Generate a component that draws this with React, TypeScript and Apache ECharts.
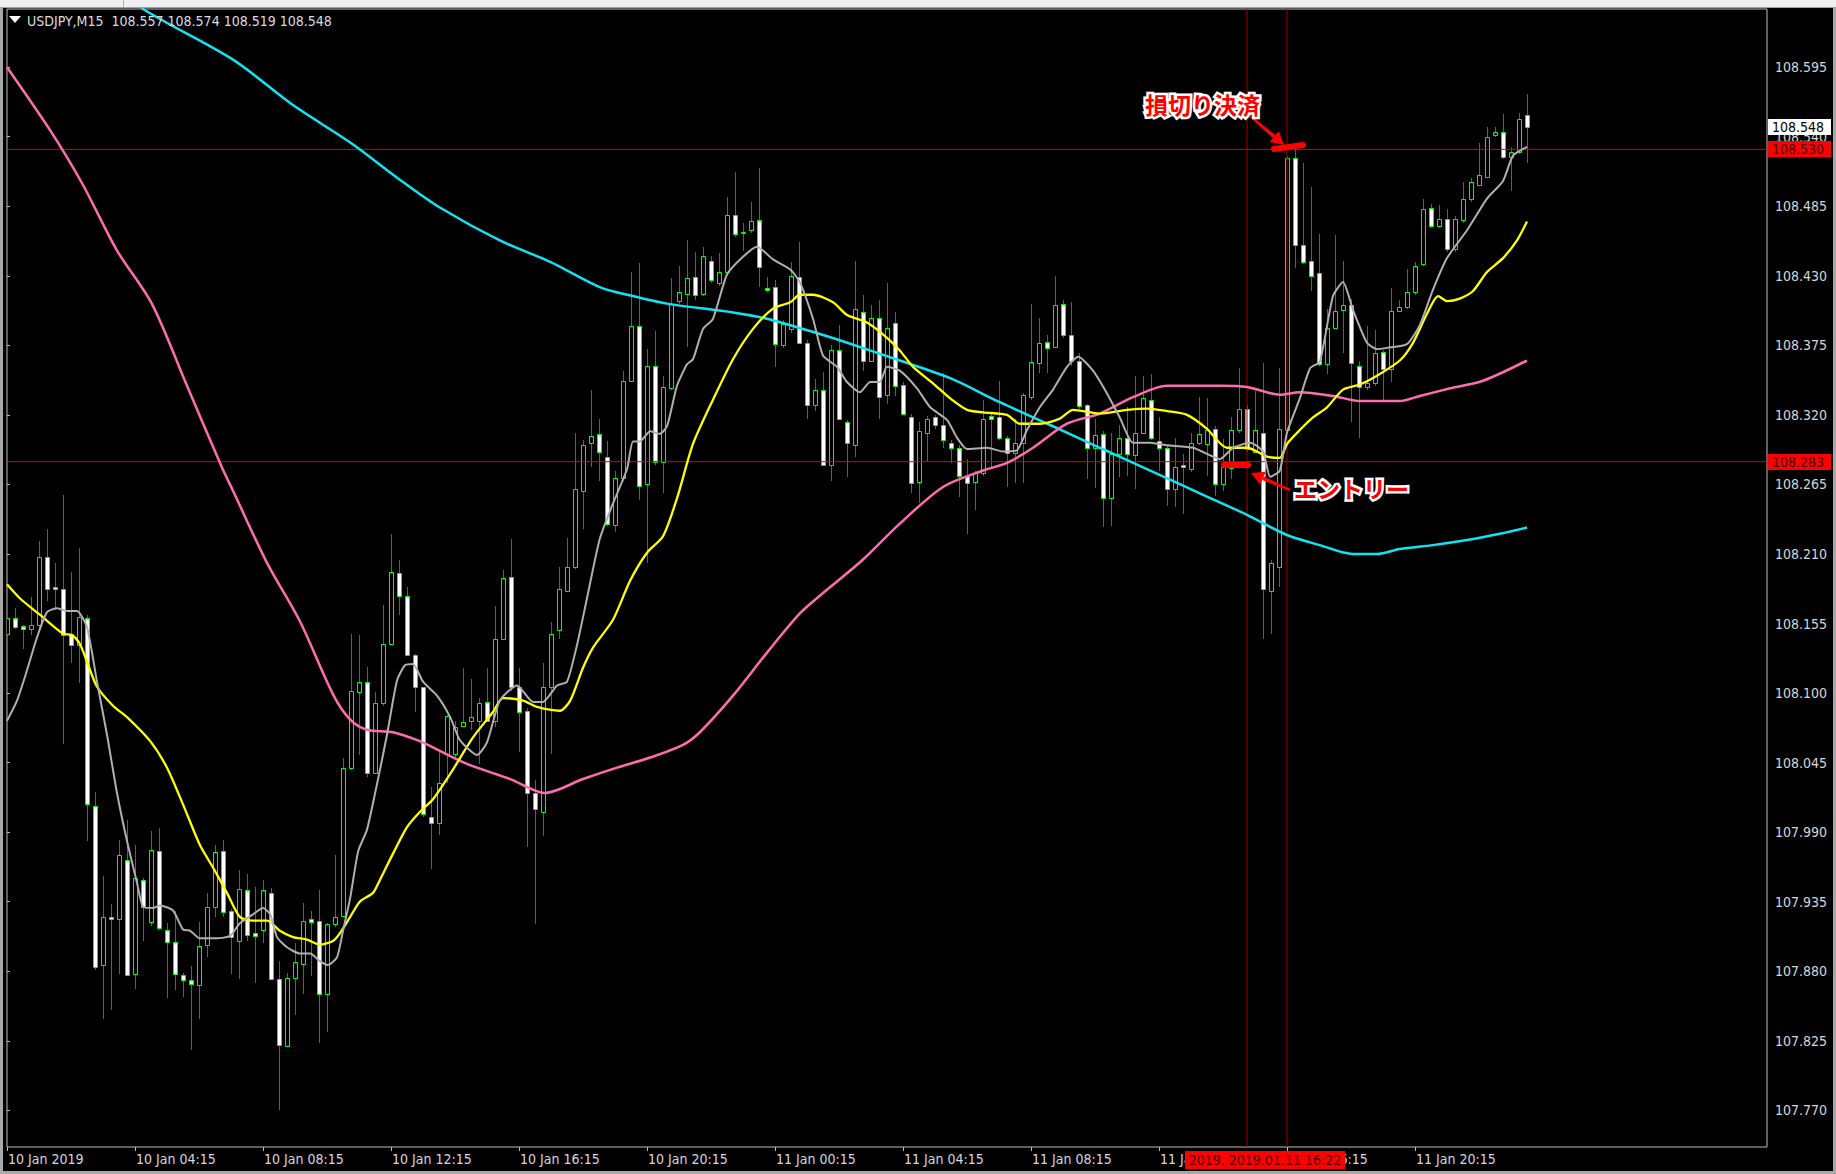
import React, { useEffect, useRef } from 'react';
import * as echarts from 'echarts';

// ---- Data (USDJPY M15, bar 0 = 10 Jan 2019 00:15) ----
const opens = [108.147,108.159,108.153,108.151,108.154,108.208,108.184,108.182,108.147,108.138,
108.159,108.011,107.885,107.923,107.921,107.968,107.878,107.952,107.919,107.975,
107.913,107.903,107.877,107.873,107.869,107.901,107.931,107.975,107.928,107.904,
107.944,107.910,107.913,107.942,107.874,107.821,107.875,107.886,107.921,107.920,
107.862,107.917,107.924,108.041,108.101,108.109,108.037,108.092,108.139,108.195,
108.177,108.130,108.105,108.002,107.997,108.052,108.052,108.074,108.078,108.078,
108.093,108.078,108.143,108.192,108.105,108.086,108.021,108.006,108.105,108.150,
108.181,108.200,108.260,108.298,108.305,108.287,108.233,108.270,108.347,108.390,
108.265,108.359,108.283,108.341,108.410,108.416,108.429,108.416,108.442,108.424,
108.433,108.478,108.464,108.466,108.474,108.420,108.421,108.375,108.388,108.429,
108.377,108.328,108.340,108.280,108.371,108.314,108.296,108.401,108.363,108.397,
108.336,108.393,108.344,108.318,108.267,108.306,108.318,108.312,108.298,108.294,
108.272,108.267,108.274,108.319,108.318,108.302,108.290,108.298,108.334,108.361,
108.378,108.374,108.408,108.383,108.363,108.328,108.294,108.305,108.254,108.289,
108.302,108.288,108.306,108.332,108.299,108.294,108.261,108.280,108.277,108.298,
108.297,108.309,108.265,108.278,108.308,108.325,108.291,108.306,108.181,108.200,
108.308,108.523,108.454,108.442,108.432,108.360,108.389,108.403,108.407,108.359,
108.342,108.345,108.370,108.356,108.402,108.405,108.417,108.439,108.484,108.469,
108.475,108.451,108.474,108.491,108.502,108.508,108.541,108.544,108.524,108.528,
108.557];

const highs = [108.164,108.167,108.154,108.176,108.220,108.230,108.203,108.257,108.196,108.215,
108.162,108.022,107.955,107.933,107.984,108.000,107.980,107.954,107.991,107.993,
107.918,107.928,107.879,107.884,107.919,107.942,107.980,107.984,107.929,107.960,
107.957,107.947,107.952,107.946,107.888,107.879,107.902,107.934,107.928,107.944,
107.918,107.972,108.049,108.147,108.146,108.121,108.101,108.170,108.226,108.205,
108.184,108.131,108.105,108.026,108.055,108.083,108.078,108.120,108.111,108.096,
108.120,108.169,108.197,108.222,108.120,108.088,108.031,108.124,108.156,108.200,
108.223,108.306,108.300,108.340,108.317,108.299,108.276,108.355,108.433,108.440,
108.372,108.386,108.351,108.428,108.438,108.458,108.449,108.453,108.446,108.448,
108.492,108.512,108.472,108.488,108.515,108.429,108.427,108.395,108.441,108.457,
108.379,108.348,108.354,108.375,108.391,108.316,108.442,108.415,108.407,108.411,
108.424,108.401,108.346,108.321,108.314,108.319,108.320,108.353,108.300,108.296,
108.285,108.276,108.332,108.322,108.347,108.303,108.317,108.337,108.408,108.397,
108.383,108.430,108.411,108.409,108.369,108.329,108.317,108.307,108.306,108.312,
108.326,108.351,108.351,108.352,108.318,108.296,108.302,108.289,108.306,108.334,
108.333,108.311,108.301,108.318,108.357,108.328,108.339,108.361,108.205,108.357,
108.525,108.530,108.519,108.500,108.463,108.404,108.462,108.442,108.412,108.363,
108.390,108.387,108.371,108.420,108.411,108.435,108.441,108.491,108.487,108.486,
108.483,108.477,108.504,108.507,108.535,108.548,108.548,108.558,108.532,108.559,
108.574];

const lows = [108.135,108.151,108.135,108.146,108.151,108.173,108.166,108.060,108.124,108.108,
107.983,107.881,107.842,107.849,107.878,107.876,107.866,107.904,107.916,107.913,
107.859,107.865,107.860,107.818,107.842,107.891,107.923,107.923,107.878,107.874,
107.904,107.871,107.902,107.873,107.770,107.820,107.845,107.862,107.876,107.823,
107.832,107.915,107.923,108.039,108.051,108.034,108.036,108.090,108.138,108.162,
108.129,108.085,108.002,107.961,107.988,108.029,108.047,108.073,108.071,108.044,
108.077,108.073,108.142,108.102,108.053,107.978,107.917,107.987,108.052,108.143,
108.180,108.198,108.230,108.279,108.268,108.232,108.227,108.268,108.346,108.253,
108.203,108.280,108.258,108.340,108.408,108.374,108.411,108.414,108.424,108.422,
108.431,108.461,108.450,108.464,108.421,108.417,108.358,108.373,108.385,108.376,
108.317,108.323,108.280,108.268,108.316,108.271,108.287,108.355,108.362,108.317,
108.329,108.335,108.320,108.258,108.250,108.283,108.309,108.294,108.282,108.255,
108.226,108.245,108.272,108.279,108.300,108.263,108.266,108.266,108.332,108.353,
108.353,108.373,108.381,108.359,108.325,108.269,108.262,108.231,108.232,108.271,
108.272,108.261,108.305,108.300,108.276,108.248,108.247,108.242,108.275,108.296,
108.272,108.256,108.260,108.269,108.306,108.291,108.290,108.143,108.147,108.184,
108.306,108.436,108.439,108.418,108.359,108.352,108.388,108.369,108.314,108.302,
108.340,108.343,108.332,108.346,108.401,108.404,108.415,108.438,108.468,108.468,
108.449,108.449,108.472,108.488,108.502,108.507,108.540,108.522,108.497,108.526,
108.519];

const closes = [108.159,108.152,108.151,108.154,108.208,108.182,108.182,108.146,108.138,108.160,
108.012,107.883,107.923,107.921,107.972,107.877,107.954,107.931,107.976,107.914,
107.903,107.878,107.873,107.870,107.900,107.931,107.974,107.927,107.907,107.945,
107.909,107.908,107.944,107.874,107.822,107.875,107.887,107.920,107.919,107.862,
107.917,107.923,108.041,108.102,108.109,108.037,108.092,108.139,108.196,108.177,
108.130,108.105,108.004,107.997,108.029,108.082,108.073,108.077,108.081,108.092,
108.078,108.143,108.191,108.105,108.085,108.021,108.008,108.105,108.147,108.182,
108.200,108.261,108.296,108.303,108.291,108.234,108.270,108.347,108.390,108.264,
108.359,108.283,108.342,108.408,108.417,108.428,108.415,108.446,108.427,108.433,
108.478,108.463,108.465,108.473,108.437,108.419,108.376,108.392,108.430,108.377,
108.328,108.340,108.280,108.371,108.317,108.298,108.404,108.363,108.397,108.334,
108.389,108.343,108.321,108.266,108.307,108.317,108.312,108.300,108.294,108.272,
108.266,108.274,108.317,108.317,108.302,108.290,108.298,108.336,108.362,108.377,
108.373,108.407,108.383,108.363,108.327,108.294,108.304,108.254,108.289,108.302,
108.289,108.306,108.333,108.302,108.294,108.261,108.279,108.279,108.298,108.305,
108.308,108.265,108.279,108.308,108.325,108.293,108.308,108.182,108.203,108.309,
108.523,108.454,108.441,108.430,108.360,108.389,108.402,108.407,108.361,108.342,
108.345,108.369,108.356,108.402,108.405,108.417,108.438,108.483,108.469,108.475,
108.451,108.475,108.491,108.504,108.510,108.540,108.544,108.524,108.528,108.554,
108.548];

// moving averages: [bar index, price]
const maGray = [[0,108.078],[1.25,108.094],[2.5,108.118],[3.75,108.144],[5,108.164],[6.25,108.167],[7.5,108.165],[8.75,108.165],[10,108.152],[11.25,108.109],[12.5,108.067],[13.75,108.021],[15,107.983],[16.25,107.950],[17,107.931],[18.25,107.930],[19.1,107.932],[20.75,107.928],[22,107.913],[22.9,107.912],[24.1,107.906],[26.25,107.906],[27.9,107.908],[29.1,107.918],[30.75,107.925],[32,107.930],[32.9,107.925],[33.75,107.907],[35,107.899],[36.6,107.894],[37.9,107.894],[39.1,107.888],[40.1,107.885],[41.25,107.891],[42,107.912],[42.9,107.938],[43.9,107.975],[45,107.992],[46.25,108.028],[47.5,108.067],[48.75,108.110],[49.75,108.122],[50.75,108.123],[52,108.109],[53.75,108.098],[55.4,108.081],[56.6,108.063],[58.75,108.051],[60,108.061],[61.6,108.094],[63.75,108.106],[65.75,108.093],[67,108.093],[68.75,108.106],[70,108.109],[71.25,108.138],[72.5,108.175],[74.1,108.222],[75.75,108.250],[77.5,108.277],[78.25,108.299],[79.1,108.299],[80.4,108.307],[81.6,108.305],[82.5,108.311],[83.75,108.343],[85,108.360],[85.75,108.364],[87,108.388],[88.25,108.396],[90,108.431],[92,108.445],[93.75,108.453],[95.75,108.443],[97.9,108.435],[99.1,108.425],[100.75,108.396],[102,108.367],[103.75,108.358],[105,108.346],[106.6,108.338],[107.9,108.346],[109.1,108.346],[110,108.358],[111.6,108.355],[113.75,108.341],[115.4,108.326],[117.5,108.316],[118.75,108.302],[120,108.293],[122.5,108.294],[124.5,108.291],[126.25,108.292],[127.5,108.308],[129.1,108.326],[130.75,108.340],[132.5,108.358],[133.9,108.366],[135.75,108.355],[137.5,108.337],[139.1,108.318],[140.75,108.298],[142.9,108.298],[145,108.296],[148.25,108.294],[150.4,108.288],[151.6,108.285],[153.25,108.294],[155.4,108.298],[157,108.291],[157.9,108.271],[159.1,108.276],[160,108.306],[161.6,108.333],[162.9,108.357],[164.1,108.362],[165.75,108.414],[167,108.425],[168.25,108.403],[170,108.377],[171.25,108.372],[172.5,108.373],[175,108.376],[176.6,108.391],[178.25,108.419],[180,108.444],[182.5,108.466],[185,108.491],[187,108.505],[188.25,108.525],[190,108.532]];

const maYellow = [[0,108.186],[1.6,108.175],[4.1,108.162],[7,108.147],[8.1,108.146],[9.1,108.139],[10.1,108.123],[11.25,108.105],[13.25,108.090],[15,108.081],[17.9,108.062],[20,108.041],[22,108.012],[24.1,107.980],[25.75,107.962],[27.5,107.942],[29.1,107.923],[30.75,107.920],[32.5,107.920],[34.1,107.912],[35.75,107.907],[37.5,107.905],[39.1,107.901],[40.75,107.904],[41.6,107.910],[42.9,107.923],[44.1,107.935],[45.75,107.942],[46.6,107.952],[48.25,107.973],[50,107.994],[51.6,108.006],[53.25,108.016],[55.4,108.036],[58.25,108.065],[60.75,108.085],[62,108.096],[64.5,108.094],[66.25,108.089],[69.1,108.086],[70.4,108.094],[72,108.120],[73.25,108.136],[75.75,108.158],[77.9,108.189],[80,108.211],[82,108.224],[83.75,108.254],[85.75,108.297],[88.25,108.332],[90.75,108.364],[93.25,108.388],[95.75,108.404],[97.9,108.409],[99.1,108.415],[100.75,108.415],[103.25,108.409],[105,108.399],[107.5,108.393],[110,108.381],[111.6,108.371],[113.25,108.358],[115.75,108.345],[117.9,108.333],[120,108.324],[122,108.322],[125,108.320],[126.6,108.313],[129.1,108.313],[131.6,108.317],[133.25,108.324],[136.6,108.321],[140,108.324],[142.5,108.325],[145,108.323],[147.5,108.320],[150,108.309],[152.5,108.294],[155,108.294],[157.5,108.287],[159.1,108.286],[160,108.297],[161.6,108.308],[163.25,108.318],[165,108.326],[167,108.340],[169.1,108.344],[171.25,108.351],[174.1,108.363],[175.75,108.377],[177.5,108.400],[178.9,108.414],[180,108.410],[181.6,108.412],[183.25,108.418],[185,108.433],[187,108.444],[188.75,108.458],[190,108.473]];

const maPink = [[0,108.595],[5.4,108.545],[9.4,108.503],[13.75,108.450],[18.1,108.408],[22.5,108.343],[26.9,108.278],[28.25,108.260],[32.5,108.203],[36.6,108.157],[40.75,108.099],[42.9,108.079],[45,108.071],[48.25,108.069],[51.6,108.062],[53.25,108.057],[57.5,108.044],[62.9,108.032],[67.25,108.021],[72,108.032],[76.25,108.041],[80.4,108.049],[84.5,108.059],[86.6,108.069],[90.75,108.098],[95,108.132],[99.1,108.163],[101.6,108.177],[106.9,108.205],[111.6,108.234],[117,108.263],[122,108.276],[125,108.282],[128.25,108.294],[132.5,108.313],[136.6,108.321],[140.75,108.334],[145,108.343],[151.6,108.343],[155,108.342],[159.1,108.336],[161.6,108.338],[165.75,108.335],[169.1,108.331],[174.1,108.331],[176.6,108.335],[180.4,108.341],[184.5,108.347],[190,108.363]];

const maCyan = [[16.5,108.648],[17,108.641],[28.25,108.601],[35.75,108.565],[43,108.535],[49.1,108.506],[54.1,108.484],[61.6,108.458],[67.9,108.441],[74.1,108.421],[77.5,108.415],[82.5,108.408],[90.75,108.401],[95,108.396],[101.6,108.384],[104.1,108.379],[111.6,108.363],[117.9,108.349],[124.1,108.330],[130.4,108.312],[136.6,108.294],[142.9,108.276],[149.1,108.258],[155,108.241],[160,108.225],[164.1,108.217],[168.25,108.210],[171.25,108.210],[174.1,108.214],[178.25,108.217],[182.5,108.221],[186.6,108.226],[190,108.231]];

const timeTickIndex = [0, 16, 32, 48, 64, 80, 96, 112, 128, 144, 160, 176];
const timeTickLabels = ['10 Jan 2019', '10 Jan 04:15', '10 Jan 08:15', '10 Jan 12:15', '10 Jan 16:15', '10 Jan 20:15',
  '11 Jan 00:15', '11 Jan 04:15', '11 Jan 08:15', '11 Jan 12:15', '11 Jan 16:15', '11 Jan 20:15'];
const priceTicks = [107.770, 107.825, 107.880, 107.935, 107.990, 108.045, 108.100, 108.155, 108.210, 108.265,
  108.320, 108.375, 108.430, 108.485, 108.540, 108.595];

const stopLossPrice = 108.530;
const entryPrice = 108.283;
const bidPrice = 108.548;
const crosshairBars = [155, 160];
const headerText = 'USDJPY,M15  108.557 108.574 108.519 108.548';
const crosshairText = '2019. 2019.01.11 16:22';

const X_MIN = 0, X_MAX = 220, Y_MIN = 107.741, Y_MAX = 108.641;
const FONT = '"DejaVu Sans Condensed", "Liberation Sans Narrow", "Arial Narrow", sans-serif';
const CJK = '"Noto Sans CJK JP", sans-serif';

function arrow(x1: number, y1: number, x2: number, y2: number, headLen: number, headHalf: number, width: number, color: string) {
  const dx = x2 - x1, dy = y2 - y1, len = Math.hypot(dx, dy);
  const ux = dx / len, uy = dy / len, px = -uy, py = ux;
  const bx = x2 - ux * headLen, by = y2 - uy * headLen;
  return [
    { type: 'polygon', z: 200, shape: { points: [[x1 + px * 1, y1 + py * 1], [bx + px * width / 2, by + py * width / 2], [bx - px * width / 2, by - py * width / 2], [x1 - px * 1, y1 - py * 1]] }, style: { fill: color } },
    { type: 'polygon', z: 200, shape: { points: [[x2, y2], [bx + px * headHalf, by + py * headHalf], [bx - px * headHalf, by - py * headHalf]] }, style: { fill: color } },
  ];
}

function outlinedText(x: number, y: number, text: string, size: number) {
  const base = { text, x: 0, y: 0, font: `bold ${size}px ${CJK}`, verticalAlign: 'middle', align: 'left' };
  return [
    { type: 'text', z: 201, x, y, style: { ...base, fill: '#ffffff', stroke: '#ffffff', lineWidth: 5, lineJoin: 'round' } },
    { type: 'text', z: 202, x, y, style: { ...base, fill: '#ff0000' } },
  ];
}

export default function App() {
  const ref = useRef<HTMLDivElement>(null);
  useEffect(() => {
    if (!ref.current) return;
    const chart = echarts.init(ref.current, null, { renderer: 'svg' });
    const candleData = opens.map((o, i) => [i, o, closes[i], lows[i], highs[i]]);
    const hLine = (p: number) => [[X_MIN, p], [X_MAX, p]];
    const vLine = (b: number) => [[b, Y_MIN], [b, Y_MAX]];
    const lineSeries = (data: any, color: string, width: number, z: number, smooth: number) => ({
      type: 'line', data, symbol: 'none', showSymbol: false, silent: true, clip: true, z, smooth,
      lineStyle: { color, width }, emphasis: { disabled: true },
    });
    const option: any = {
      animation: false,
      backgroundColor: '#000000',
      grid: { left: 7, top: 9, width: 1760, height: 1138, show: true, borderColor: '#bdbdbd', borderWidth: 1, backgroundColor: 'transparent' },
      xAxis: {
        type: 'value', min: X_MIN, max: X_MAX,
        splitLine: { show: false }, axisLine: { show: false },
        axisTick: { show: true, customValues: timeTickIndex, length: 4, lineStyle: { color: '#bdbdbd' } },
        axisLabel: {
          customValues: timeTickIndex, align: 'left', margin: 5, color: '#d6d6d6', fontFamily: FONT, fontSize: 14,
          padding: [0, 0, 0, 1],
          formatter: (v: number) => timeTickLabels[timeTickIndex.indexOf(Math.round(v))] ?? '',
        },
      },
      yAxis: {
        type: 'value', position: 'right', min: Y_MIN, max: Y_MAX,
        splitLine: { show: false }, axisLine: { show: false },
        axisTick: { show: true, customValues: priceTicks, length: 3, lineStyle: { color: '#bdbdbd' } },
        axisLabel: { customValues: priceTicks, margin: 8, color: '#d6d6d6', fontFamily: FONT, fontSize: 14, formatter: (v: number) => v.toFixed(3) },
      },
      series: [
        {
          type: 'custom', data: candleData, clip: true, silent: true, z: 2,
          encode: { x: 0, y: [1, 2, 3, 4] },
          renderItem: (params: any, api: any) => {
            const i = api.value(0), o = api.value(1), c = api.value(2), l = api.value(3), h = api.value(4);
            const po = api.coord([i, o]), pc = api.coord([i, c]), pl = api.coord([i, l]), ph = api.coord([i, h]);
            const cx = Math.floor(po[0]) + 0.5;
            const top = Math.round(Math.min(po[1], pc[1])) + 0.5;
            let bot = Math.round(Math.max(po[1], pc[1])) + 0.5;
            if (bot - top < 1) bot = top + 1;
            const bull = c > o;
            return {
              type: 'group', children: [
                { type: 'line', shape: { x1: cx, y1: Math.round(ph[1]), x2: cx, y2: Math.round(pl[1]) }, style: { stroke: '#00a000', lineWidth: 1 } },
                { type: 'rect', shape: { x: cx - 2, y: top, width: 4, height: bot - top }, style: { fill: bull ? '#000000' : '#ffffff', stroke: '#00ff00', lineWidth: 1 } },
              ],
            };
          },
        },
        lineSeries(hLine(stopLossPrice), '#e00000', 1, 3, 0),
        lineSeries(hLine(entryPrice), '#e00000', 1, 3, 0),
        lineSeries(vLine(crosshairBars[0]), '#a00000', 1, 3, 0),
        lineSeries(vLine(crosshairBars[1]), '#a00000', 1, 3, 0),
        lineSeries(maCyan, '#10e4f2', 2.5, 4, 0.3),
        lineSeries(maPink, '#ff6cb0', 2.5, 4, 0.3),
        lineSeries(maYellow, '#ffff00', 2.3, 5, 0.25),
        lineSeries(maGray, '#b0b0b0', 2, 6, 0.2),
      ],
    };
    chart.setOption(option);

    const yPix = (p: number) => chart.convertToPixel({ gridIndex: 0 } as any, [0, p])[1];
    const box = (p: number, text: string, bg: string, fg: string) => {
      const y = Math.round(yPix(p));
      return [
        { type: 'rect', z: 150, shape: { x: 1768, y: y - 8, width: 63, height: 16 }, style: { fill: bg } },
        { type: 'text', z: 151, x: 1772, y: y, style: { text, fill: fg, font: `14px ${FONT}`, verticalAlign: 'middle', align: 'left' } },
      ];
    };

    const graphic: any[] = [
      // window chrome
      { type: 'rect', z: 150, shape: { x: 0, y: 0, width: 1836, height: 8 }, style: { fill: '#f0f0f0' } },
      { type: 'line', z: 150, shape: { x1: 123.5, y1: 0, x2: 123.5, y2: 8 }, style: { stroke: '#b0b0b0', lineWidth: 1 } },
      { type: 'line', z: 150, shape: { x1: 0, y1: 7.5, x2: 1836, y2: 7.5 }, style: { stroke: '#a0a0a0', lineWidth: 1 } },
      { type: 'rect', z: 150, shape: { x: 0, y: 8, width: 3, height: 1166 }, style: { fill: '#a8a8a8' } },
      { type: 'rect', z: 150, shape: { x: 1833, y: 8, width: 3, height: 1166 }, style: { fill: '#a8a8a8' } },
      { type: 'rect', z: 150, shape: { x: 0, y: 1171, width: 1836, height: 3 }, style: { fill: '#a8a8a8' } },
      // header
      { type: 'polygon', z: 150, shape: { points: [[9, 16], [21, 16], [15, 23]] }, style: { fill: '#ffffff' } },
      { type: 'text', z: 150, x: 27, y: 21, style: { text: headerText, fill: '#dcdcdc', font: `14px ${FONT}`, verticalAlign: 'middle', align: 'left' } },
      // price labels
      ...box(bidPrice, bidPrice.toFixed(3), '#ffffff', '#000000'),
      ...box(stopLossPrice, stopLossPrice.toFixed(3), '#ff0000', '#4a0000'),
      ...box(entryPrice, entryPrice.toFixed(3), '#ff0000', '#4a0000'),
      // crosshair time label
      { type: 'rect', z: 150, shape: { x: 1185, y: 1151, width: 160, height: 18 }, style: { fill: '#ff0000' } },
      { type: 'text', z: 151, x: 1265, y: 1160, style: { text: crosshairText, fill: '#4a0000', font: `14px ${FONT}`, verticalAlign: 'middle', align: 'center' } },
      // annotations
      ...outlinedText(1145, 104, '損切り決済', 23),
      ...arrow(1249, 115, 1284, 145, 13, 7, 4, '#ff0000'),
      { type: 'line', z: 200, shape: { x1: 1274, y1: 149, x2: 1303, y2: 145 }, style: { stroke: '#ff0000', lineWidth: 6, lineCap: 'round' } },
      ...outlinedText(1294, 488, 'エントリー', 23),
      ...arrow(1290, 490, 1251, 473, 13, 7, 4, '#ff0000'),
      { type: 'line', z: 200, shape: { x1: 1224, y1: 465, x2: 1248, y2: 465 }, style: { stroke: '#ff0000', lineWidth: 6, lineCap: 'round' } },
    ];
    chart.setOption({ graphic });
    return () => chart.dispose();
  }, []);
  return <div ref={ref} style={{ position: 'fixed', left: 0, top: 0, width: 1836, height: 1174, background: '#000' }} />;
}
